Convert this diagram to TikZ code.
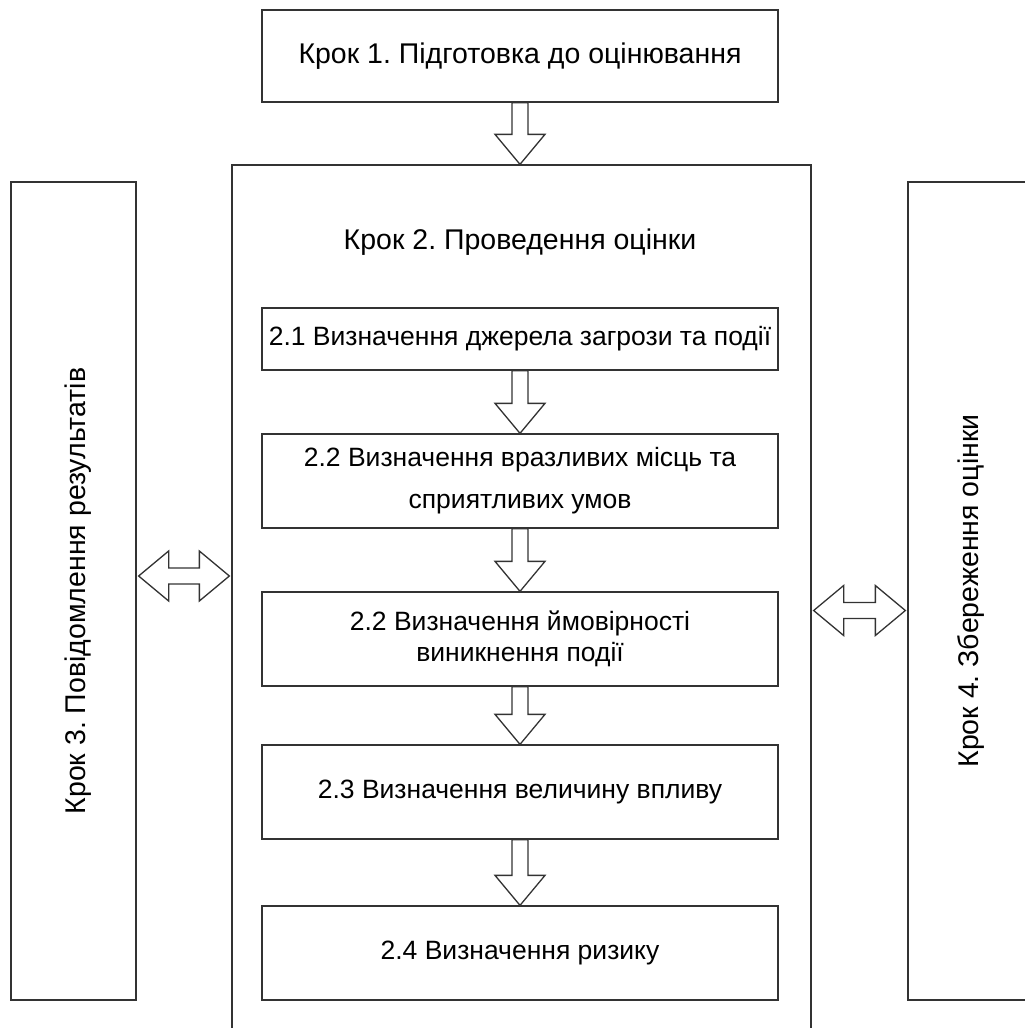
\documentclass[tikz,border=0pt]{standalone}
\usepackage{fontspec}
\setmainfont{Liberation Sans}
\usetikzlibrary{calc}
\frenchspacing
\tikzset{
  frame/.style={draw=black!80, line width=1.3pt, fill=white, inner sep=0pt},
  stepbox/.style={frame, font=\fontsize{28.5}{33}\selectfont, align=center},
  subbox/.style={frame, minimum width=516pt, minimum height=94pt, font=\fontsize{26.5}{31}\selectfont, align=center},
  steptext/.style={font=\fontsize{28.5}{33}\selectfont, inner sep=0pt},
  blockarrow/.style={draw=black!80, line width=1.3pt, fill=white, line join=miter},
}
\newcommand\blkdown[2]{%
  \draw[blockarrow] let \p1=(#1.south), \p2=(#2.north) in
    (\x1-8pt,\y1) -- (\x1-8pt,\y2+30pt) -- (\x1-25pt,\y2+30pt) -- (\x1,\y2)
    -- (\x1+25pt,\y2+30pt) -- (\x1+8pt,\y2+30pt) -- (\x1+8pt,\y1) -- cycle;}
\newcommand\blkboth[3]{%
  \draw[blockarrow] let \p1=([yshift=#3]#1.east), \p2=([yshift=#3]#2.west) in
    (\x1+2pt,\y1) -- (\x1+32pt,\y1+25pt) -- (\x1+32pt,\y1+8pt) -- (\x2-32pt,\y1+8pt)
    -- (\x2-32pt,\y1+25pt) -- (\x2-2pt,\y1) -- (\x2-32pt,\y1-25pt) -- (\x2-32pt,\y1-8pt)
    -- (\x1+32pt,\y1-8pt) -- (\x1+32pt,\y1-25pt) -- cycle;}
\begin{document}
\begin{tikzpicture}[x=1pt,y=-1pt]
\useasboundingbox (0,0) rectangle (1025,1028);
\clip (0,0) rectangle (1025,1028);
% main boxes
\node[stepbox, minimum width=516pt, minimum height=92pt] (s1) at (520,56) {Крок 1. Підготовка до оцінювання};
\node[frame, minimum width=579pt, minimum height=875pt] (s2) at (521.5,602.5) {};
\node[steptext] (t2) at (520,242) {Крок 2. Проведення оцінки};
\node[frame, minimum width=125pt, minimum height=818pt] (s3) at (73.5,591) {};
\node[steptext, rotate=90] (t3) at (78,591) {Крок 3. Повідомлення результатів};
\node[frame, minimum width=126pt, minimum height=818pt] (s4) at (971,591) {};
\node[steptext, rotate=90] (t4) at (971,591) {Крок 4. Збереження оцінки};
% sub steps
\node[subbox, minimum height=62pt] (b1) at (520,339) {2.1 Визначення джерела загрози та події};
\node[subbox] (b2) at (520,481) {2.2 Визначення вразливих місць та\\[11pt]сприятливих умов};
\node[subbox] (b3) at (520,639) {2.2 Визначення ймовірності\\[0pt]виникнення події};
\node[subbox] (b4) at (520,792) {2.3 Визначення величину впливу};
\node[subbox] (b5) at (520,953) {2.4 Визначення ризику};
% arrows
\blkdown{s1}{s2}
\blkdown{b1}{b2}
\blkdown{b2}{b3}
\blkdown{b3}{b4}
\blkdown{b4}{b5}
\blkboth{s3}{s2}{15pt}
\blkboth{s2}{s4}{-8pt}
\end{tikzpicture}
\end{document}
